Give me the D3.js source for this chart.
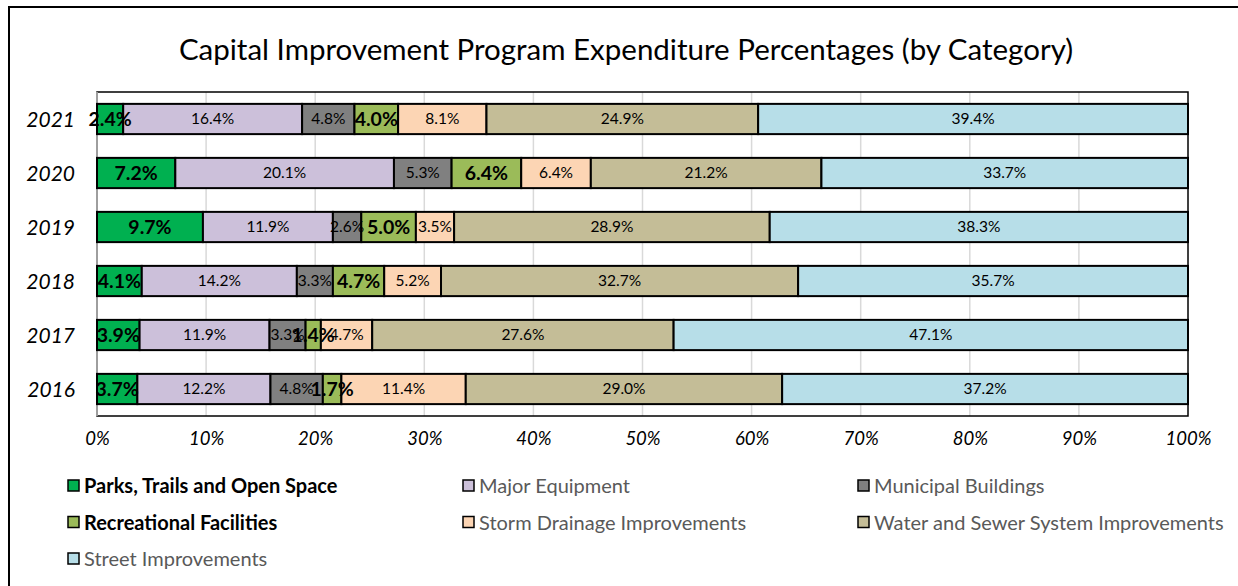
<!DOCTYPE html>
<html>
<head>
<meta charset="utf-8">
<script src="https://cdn.jsdelivr.net/npm/d3@7"></script>
<style>
	body { margin: 0; background: #fff; }
	#dataviz { width: 1238px; height: 586px; }
</style>
</head>
<body>
<div id="dataviz"></div>
<script>
// dati
var years = ["2021", "2020", "2019", "2018", "2017", "2016"];
var categories = ["Parks, Trails and Open Space", "Major Equipment", "Municipal Buildings",
	"Recreational Facilities", "Storm Drainage Improvements",
	"Water and Sewer System Improvements", "Street Improvements"];
var parks      = [2.4, 7.2, 9.7, 4.1, 3.9, 3.7];
var equipment  = [16.4, 20.1, 11.9, 14.2, 11.9, 12.2];
var buildings  = [4.8, 5.3, 2.6, 3.3, 3.3, 4.8];
var recreation = [4.0, 6.4, 5.0, 4.7, 1.4, 1.7];
var drainage   = [8.1, 6.4, 3.5, 5.2, 4.7, 11.4];
var water      = [24.9, 21.2, 28.9, 32.7, 27.6, 29.0];
var streets    = [39.4, 33.7, 38.3, 35.7, 47.1, 37.2];
var tick_labels = ["0%", "10%", "20%", "30%", "40%", "50%", "60%", "70%", "80%", "90%", "100%"];

var series = [parks, equipment, buildings, recreation, drainage, water, streets];
var colors = ["#00B050", "#CCC0DA", "#808080", "#9BBB59", "#FCD5B4", "#C4BD97", "#B7DEE8"];
var bold_cat = ["Parks, Trails and Open Space", "Recreational Facilities"];

function bar_chart(){
	var width = 1238;
	var height = 586;
	var font = "Lato, 'Open Sans', sans-serif";

	var svg = d3.select("#dataviz").append("svg")
		.attr("width", width)
		.attr("height", height);

	// bordo esterno
	svg.append("rect")
		.attr("x", 9).attr("y", 7)
		.attr("width", 1260).attr("height", 620)
		.attr("fill", "none")
		.attr("stroke", "#000")
		.attr("stroke-width", 2);

	svg.append("text")
		.attr("x", 626).attr("y", 60)
		.attr("text-anchor", "middle")
		.style("font-family", font)
		.style("font-size", "29.5px")
		.attr("fill", "#000")
		.text("Capital Improvement Program Expenditure Percentages (by Category)");

	// tabella per lo stack
	var table = years.map(function(y, i){
		var row = {year: y};
		categories.forEach(function(c, j){ row[c] = series[j][i]; });
		return row;
	});

	var stack = d3.stack().keys(categories).offset(d3.stackOffsetExpand);
	var layers = stack(table);

	var x = d3.scaleLinear().domain([0, 1]).range([97, 1188]);
	var y = d3.scaleBand().domain(years).range([92, 416])
		.paddingInner(0.44).paddingOuter(0.22);

	// griglia
	svg.append("g").selectAll("line")
		.data(d3.range(1, 10))
		.enter().append("line")
		.attr("x1", function(d){ return x(d / 10); })
		.attr("x2", function(d){ return x(d / 10); })
		.attr("y1", 92).attr("y2", 416)
		.attr("stroke", "#d9d9d9")
		.attr("stroke-width", 1.5);

	svg.append("rect")
		.attr("x", x(0)).attr("y", 92)
		.attr("width", x(1) - x(0)).attr("height", 324)
		.attr("fill", "none")
		.attr("stroke", "#000")
		.attr("stroke-width", 1.5);

	svg.append("line")
		.attr("x1", x(0)).attr("x2", x(0))
		.attr("y1", 92).attr("y2", 416)
		.attr("stroke", "#bfbfbf")
		.attr("stroke-width", 1.5);

	var layer = svg.append("g").selectAll("g")
		.data(layers)
		.enter().append("g")
		.attr("fill", function(d, i){ return colors[i]; });

	layer.selectAll("rect")
		.data(function(d){ return d; })
		.enter().append("rect")
		.attr("x", function(d){ return x(d[0]); })
		.attr("y", function(d){ return y(d.data.year); })
		.attr("width", function(d){ return x(d[1]) - x(d[0]); })
		.attr("height", y.bandwidth())
		.attr("stroke", "#000")
		.attr("stroke-width", 2);

	// etichette dei valori
	layers.forEach(function(l, i){
		var isBold = bold_cat.indexOf(l.key) >= 0;
		svg.append("g").selectAll("text")
			.data(l)
			.enter().append("text")
			.attr("x", function(d){ return (x(d[0]) + x(d[1])) / 2; })
			.attr("y", function(d){ return y(d.data.year) + y.bandwidth() / 2; })
			.attr("dy", "0.35em")
			.attr("text-anchor", "middle")
			.style("font-family", font)
			.style("font-size", isBold ? "19.5px" : "15.5px")
			.style("font-weight", isBold ? "bold" : "normal")
			.attr("fill", "#000")
			.text(function(d){ return d.data[l.key].toFixed(1) + "%"; });
	});

	// anni
	svg.append("g").selectAll("text")
		.data(years)
		.enter().append("text")
		.attr("x", 75)
		.attr("y", function(d){ return y(d) + y.bandwidth() / 2; })
		.attr("dy", "0.36em")
		.attr("text-anchor", "end")
		.style("font-family", font)
		.style("font-size", "21px")
		.style("font-style", "italic")
		.attr("fill", "#000")
		.text(function(d){ return d; });

	// asse x
	var axis = svg.append("g")
		.attr("transform", "translate(0,416)")
		.call(d3.axisBottom(x)
			.tickValues(d3.range(0, 11).map(function(d){ return d / 10; }))
			.tickFormat(function(d, i){ return tick_labels[i]; })
			.tickSize(0)
			.tickPadding(16));
	axis.select(".domain").remove();
	axis.selectAll("text")
		.style("font-family", font)
		.style("font-size", "18.5px")
		.style("font-style", "italic")
		.attr("fill", "#000");

	// legenda
	var legend = svg.append("g").selectAll("g")
		.data(categories)
		.enter().append("g")
		.attr("transform", function(d, i){
			return "translate(" + (68 + (i % 3) * 395) + "," + (486 + Math.floor(i / 3) * 36.5) + ")";
		});

	legend.append("rect")
		.attr("x", 0).attr("y", -6)
		.attr("width", 11).attr("height", 11)
		.attr("fill", function(d, i){ return colors[i]; })
		.attr("stroke", "#000")
		.attr("stroke-width", 1.5);

	legend.append("text")
		.attr("x", 16)
		.attr("dy", "0.35em")
		.style("font-family", font)
		.style("font-size", "20px")
		.style("font-weight", function(d){ return bold_cat.indexOf(d) >= 0 ? "bold" : "normal"; })
		.attr("fill", function(d){ return bold_cat.indexOf(d) >= 0 ? "#000" : "#595959"; })
		.text(function(d){ return d; });
}

bar_chart();
</script>
</body>
</html>
